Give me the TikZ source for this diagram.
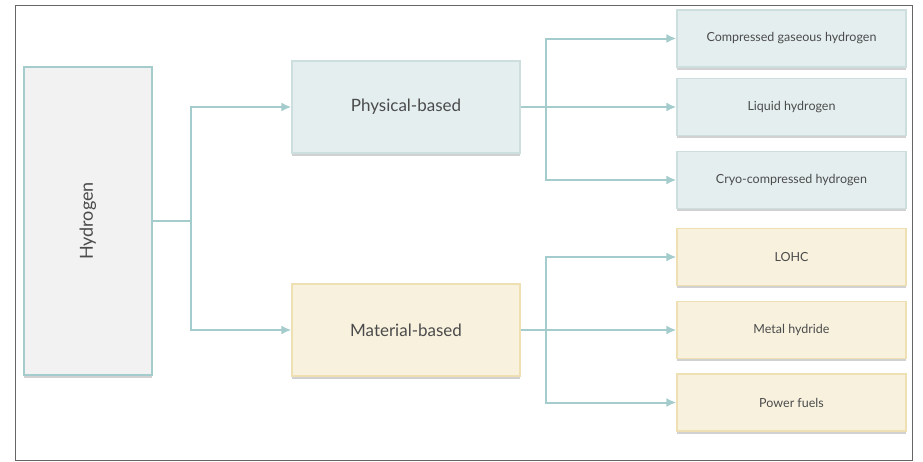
\documentclass[tikz,border=0pt]{standalone}
\usepackage{fontspec}
\setmainfont{Lato}
\usetikzlibrary{shadows,arrows.meta}
\definecolor{h2line}{RGB}{165,204,204}
\definecolor{h2gray}{RGB}{242,242,242}
\definecolor{h2phys}{RGB}{228,238,238}
\definecolor{h2physdraw}{RGB}{205,222,222}
\definecolor{h2mat}{RGB}{247,241,222}
\definecolor{h2matdraw}{RGB}{238,224,178}
\definecolor{h2text}{RGB}{75,75,75}

\begin{document}
\begin{tikzpicture}[x=1pt, y=-1pt,
    box/.style={draw, line width=1.2pt, text=h2text, inner sep=0pt,
      drop shadow={shadow xshift=0pt, shadow yshift=-2.5pt, opacity=0.3, fill=black!60}},
    physbox/.style={box, fill=h2phys, draw=h2physdraw},
    matbox/.style={box, fill=h2mat, draw=h2matdraw},
    leafsize/.style={minimum width=229pt, minimum height=57pt, font=\fontsize{12.5}{14}\selectfont},
    midsize/.style={minimum width=228pt, minimum height=92pt, font=\fontsize{17}{20}\selectfont},
    link/.style={draw=h2line, line width=2pt, -{Latex[length=10pt, width=9pt]}}]
  \useasboundingbox (0,0) rectangle (923,461);
  \draw[black!60, line width=1pt] (15,5) rectangle (912,460);

  % root
  \node (hydrogen) [box, fill=h2gray, draw=h2line, minimum width=128pt, minimum height=308pt,
    font=\fontsize{18}{21}\selectfont] at (88,221) {\rotatebox{90}{Hydrogen}};

  % two families
  \node (physical) [physbox, midsize] at (406,107) {Physical-based};
  \node (material) [matbox, midsize] at (406,330) {Material-based};

  % storage forms
  \node (gaseous) [physbox, leafsize] at (791.5,38.5) {Compressed gaseous hydrogen};
  \node (liquid) [physbox, leafsize] at (791.5,107) {Liquid hydrogen};
  \node (cryo) [physbox, leafsize] at (791.5,180) {Cryo-compressed hydrogen};
  \node (lohc) [matbox, leafsize] at (791.5,257) {LOHC};
  \node (hydride) [matbox, leafsize] at (791.5,330) {Metal hydride};
  \node (powerfuel) [matbox, leafsize] at (791.5,402.5) {Power fuels};

  \draw[link] (hydrogen.east) -- ++(38,0) |- (physical.west);
  \draw[link] (hydrogen.east) -- ++(38,0) |- (material.west);

  \draw[link] (physical.east) -- ++(25,0) |- (gaseous.west);
  \draw[link] (physical.east) -- (liquid.west);
  \draw[link] (physical.east) -- ++(25,0) |- (cryo.west);

  \draw[link] (material.east) -- ++(25,0) |- (lohc.west);
  \draw[link] (material.east) -- (hydride.west);
  \draw[link] (material.east) -- ++(25,0) |- (powerfuel.west);
\end{tikzpicture}
\end{document}
